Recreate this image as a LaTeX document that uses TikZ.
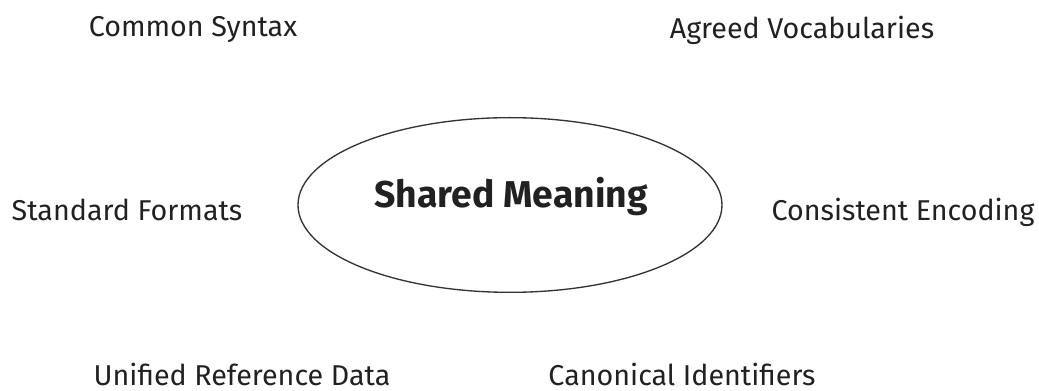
\documentclass[tikz,border=0pt]{standalone}
\usepackage{fontspec}
\setmainfont{Fira Sans}
\usetikzlibrary{shapes.geometric}
\begin{document}
\begin{tikzpicture}[x=0.75pt,y=-0.75pt,
  label/.style={font=\fontsize{21.5}{25}\selectfont, text=black!87, inner sep=0pt},
  core/.style={ellipse, draw=black!80, line width=1pt, minimum width=318pt, minimum height=131pt,
    font=\fontsize{28}{32}\selectfont\bfseries, text=black!87}]
  \useasboundingbox (0,0) rectangle (1039,391);
  \node[core] (center) at (510,205) {};
  \node[font=\fontsize{28}{32}\selectfont\bfseries, text=black!87, inner sep=0pt] (title) at (511,197) {Shared Meaning};
  \node[label] (syntax) at (193,30) {Common Syntax};
  \node[label] (vocab) at (802,30) {Agreed Vocabularies};
  \node[label] (formats) at (127,210) {Standard Formats};
  \node[label] (encoding) at (903,212) {Consistent Encoding};
  \node[label] (refdata) at (242,374) {Unified Reference Data};
  \node[label] (ids) at (682,374) {Canonical Identifiers};
\end{tikzpicture}
\end{document}
